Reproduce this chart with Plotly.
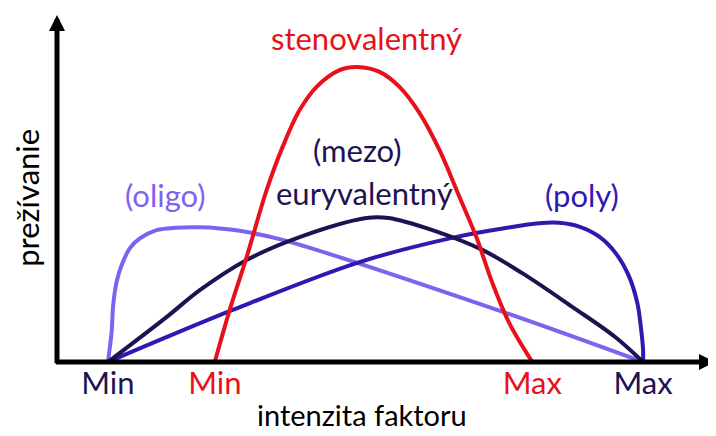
import plotly.graph_objects as go

# intenzita faktoru (x) a preživanie (y), odčítané z obrázka, rozsah 0-100
oligo_x = [7.74, 8.30, 8.54, 9.06, 9.82, 11.08, 12.59, 15.13, 18.16, 21.70, 24.73, 27.77, 34.29, 67.22, 89.07]
oligo_y = [0, 8.7, 16.4, 23.1, 27.9, 32.8, 35.6, 38.0, 38.7, 38.8, 38.5, 37.8, 35.2, 14.8, 0]

eury_x = [7.74, 16.69, 21.70, 28.83, 36.87, 47.04, 50.38, 57.06, 64.64, 70.71, 78.30, 84.83, 89.07]
eury_y = [0, 13.0, 20.7, 29.4, 36.0, 41.5, 41.5, 38.0, 32.3, 25.6, 15.9, 7.2, 0]

poly_x = [7.74, 26.71, 45.98, 60.55, 68.13, 73.29, 76.33, 79.36, 82.40, 84.93, 86.95, 88.21, 88.72, 89.07, 89.07]
poly_y = [0, 15.0, 28.8, 36.0, 38.6, 40.0, 40.1, 39.0, 36.1, 31.3, 24.6, 16.9, 10.2, 3.5, 0]

steno_x = [23.98, 26.25, 28.83, 31.87, 34.29, 36.87, 39.45, 42.94, 45.68, 49.01, 52.05,
           55.08, 58.12, 61.15, 63.73, 66.16, 68.74, 72.23]
steno_y = [0, 15.0, 30.3, 49.6, 62.0, 72.6, 79.3, 84.1, 85.0, 83.6, 79.3,
           71.8, 61.1, 47.6, 36.0, 22.8, 11.2, 0]

tick_vals = [7.74, 23.98, 72.23, 89.07]
tick_names = ["Min", "Min", "Max", "Max"]

NAVY = "#1c1452"
RED = "#e8101a"
POLY = "#3019b0"
OLIGO = "#8062f0"
FONT = "Lato"

fig = go.Figure()

def krivka(x, y, farba):
    fig.add_trace(go.Scatter(x=x, y=y, mode="lines",
                             line=dict(color=farba, width=4, shape="spline", smoothing=1.0),
                             hoverinfo="skip", showlegend=False))

krivka(oligo_x, oligo_y, OLIGO)
krivka(poly_x, poly_y, POLY)
krivka(eury_x, eury_y, NAVY)
krivka(steno_x, steno_y, RED)

tick_farby = [NAVY, RED, RED, NAVY]
tick_text = [f'<span style="color:{c}">{t}</span>' for t, c in zip(tick_names, tick_farby)]

# osi ako šípky
fig.add_annotation(x=0, y=100, ax=0, ay=-0.8, xref="x", yref="y", axref="x", ayref="y",
                   text="", showarrow=True, arrowhead=2, arrowwidth=5, arrowsize=0.64,
                   arrowcolor="black", standoff=0)
fig.add_annotation(x=100, y=0, ax=-0.4, ay=0, xref="x", yref="y", axref="x", ayref="y",
                   text="", showarrow=True, arrowhead=2, arrowwidth=5, arrowsize=0.64,
                   arrowcolor="black", standoff=0)

def popis(text, x, y, farba, size=31, **kw):
    fig.add_annotation(x=x, y=y, text=text, showarrow=False,
                       xanchor="center", yanchor="middle",
                       font=dict(family=FONT, size=size, color=farba), **kw)

popis("stenovalentný", 47.1, 93.4, RED)
popis("(mezo)", 45.7, 61.1, NAVY)
popis("euryvalentný", 46.7, 48.7, NAVY)
popis("(oligo)", 16.4, 48.1, OLIGO)
popis("(poly)", 79.8, 48.1, POLY)
popis("prežívanie", -0.0456, 47.3, "black", xref="paper", textangle=-90)
popis("intenzita faktoru", 46.3, -0.150, "black", size=29, yref="paper")

# stránka má okraj 8 px, preto je graf posunutý o 8 px doľava a hore
fig.update_layout(
    width=716, height=436,
    margin=dict(l=49, r=9, t=7, b=82, autoexpand=False),
    plot_bgcolor="white", paper_bgcolor="white",
    xaxis=dict(range=[0, 100], showgrid=False, zeroline=False, showline=False,
               tickvals=tick_vals, ticktext=tick_text, ticks="", automargin=False,
               tickfont=dict(family=FONT, size=31)),
    yaxis=dict(range=[0, 100], showgrid=False, zeroline=False, showline=False,
               showticklabels=False, automargin=False),
)

fig.write_html("out.html")
